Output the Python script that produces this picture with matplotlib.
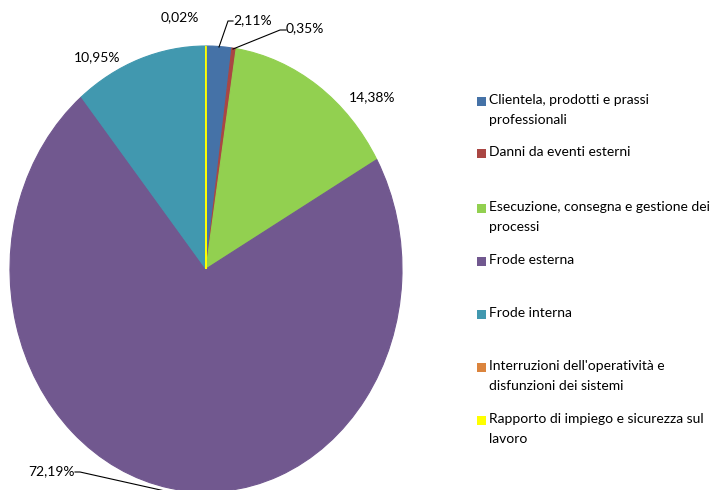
import matplotlib
matplotlib.use('Agg')
import matplotlib.pyplot as plt
from matplotlib.patches import Rectangle

categories = ["Clientela, prodotti e prassi\nprofessionali",
              "Danni da eventi esterni",
              "Esecuzione, consegna e gestione dei\nprocessi",
              "Frode esterna",
              "Frode interna",
              "Interruzioni dell'operatività e\ndisfunzioni dei sistemi",
              "Rapporto di impiego e sicurezza sul\nlavoro"]
shares = [2.11, 0.35, 14.38, 72.19, 10.95, 0.00, 0.02]
colours = ["#4572A7", "#AA4643", "#92D050", "#71588F", "#4198AF", "#DB843D", "#FFFF00"]

plt.rcParams['font.family'] = ['Lato', 'DejaVu Sans']

fig = plt.figure(figsize=(7.18, 4.90), dpi=100)
ax = fig.add_axes([10 / 718, -2 / 490, 392 / 718, 446 / 490])
wedges, _ = ax.pie(shares, colors=colours, startangle=90, counterclock=False,
                   radius=1.0, center=(0, 0))
for w, v in zip(wedges, shares):
    if v > 0:
        w.set_edgecolor(w.get_facecolor())
        w.set_linewidth(0.8)
    else:
        w.set_visible(False)
ax.set_aspect('auto')
ax.set_xlim(-1, 1)
ax.set_ylim(-1, 1)
ax.axis('off')


def px(x, y):
    # pixel position on the canvas -> pie data units
    return (x - 206) / 196, (269 - y) / 223


def pct(v):
    return ("%.2f%%" % v).replace(".", ",")


fs = 10
# value labels: (index, pixel anchor, alignment, leader points)
labels = [
    (0, (233, 20), 'left', [(219, 47), (228, 21), (233, 21)]),
    (1, (286, 28), 'left', [(233, 49), (280, 30), (286, 30)]),
    (2, (349, 97), 'left', None),
    (3, (75, 471), 'right', [(165, 491), (80, 472), (75, 472)]),
    (4, (97, 57), 'center', None),
    (6, (180, 17), 'center', None),
]
for i, pos, ha, leader in labels:
    x, y = px(*pos)
    ax.text(x, y, pct(shares[i]), ha=ha, va='center', fontsize=fs, color='#000000',
            clip_on=False)
    if leader:
        lx, ly = zip(*[px(*p) for p in leader])
        ax.plot(lx, ly, color='black', lw=0.8, clip_on=False)

# legend on the right
legend_y = [101, 153, 208, 261, 314, 367, 420]
for name, col, y in zip(categories, colours, legend_y):
    fig.patches.append(Rectangle((477 / 718, 1 - (y + 5) / 490), 9 / 718, 9 / 490,
                                 transform=fig.transFigure, facecolor=col,
                                 edgecolor='none'))
    fig.text(489 / 718, 1 - (y - 7) / 490, name, ha='left', va='top', fontsize=fs,
             linespacing=1.75)

fig.savefig('out.png', dpi=100)
